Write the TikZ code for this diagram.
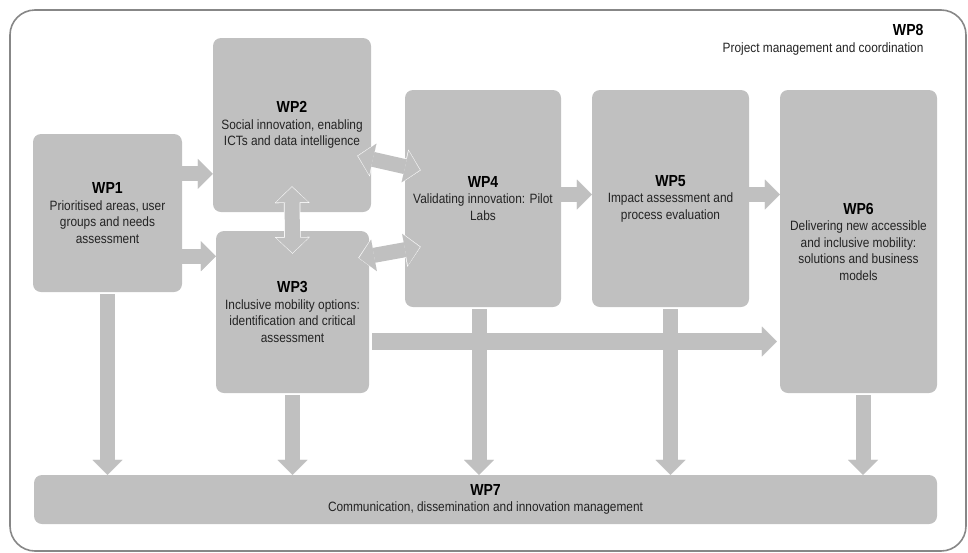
\documentclass[tikz,border=0pt]{standalone}
\usepackage{fontspec}
\setmainfont{Liberation Sans}[FakeStretch=0.88]
\usetikzlibrary{arrows.meta}

\definecolor{boxgray}{RGB}{192,192,192}
\definecolor{framegray}{RGB}{135,135,135}
\definecolor{textgray}{RGB}{35,35,35}

\newcommand{\wptitle}[1]{{\fontsize{16}{20}\selectfont\bfseries\color{black}#1}}

\begin{document}
\begin{tikzpicture}[x=1pt, y=-1pt,
    wpbox/.style={fill=boxgray, rounded corners=8pt, inner sep=0pt, align=center,
        text=textgray, font=\fontsize{13.5}{16.5}\selectfont},
    blockarrow/.style={draw=boxgray, line width=15pt,
        -{Triangle[width=30pt,length=15pt,line width=0.01pt]}},
    twoway/.style={draw=boxgray, line width=15pt,
        {Triangle[width=32pt,length=15pt,line width=0.01pt]}-{Triangle[width=32pt,length=15pt,line width=0.01pt]}},
    halo/.style={draw=white, line width=16.5pt,
        {Triangle[width=34.5pt,length=16.5pt,line width=0.01pt]}-{Triangle[width=34.5pt,length=16.5pt,line width=0.01pt]}}]

    \useasboundingbox (0,0) rectangle (968,552);

    % outer frame of WP8
    \draw [framegray, line width=1.6pt, rounded corners=25pt] (10,10) rectangle (966,551);
    \node [anchor=north east, align=right, text=textgray, font=\fontsize{13.5}{17}\selectfont]
        (wp8) at (927,21) {\wptitle{WP8}\\Project management and coordination};

    \node [wpbox, minimum width=149pt, minimum height=158pt] (wp1) at (107.5,213)
        {\wptitle{WP1}\\Prioritised areas, user\\groups and needs\\assessment};
    \node [wpbox, minimum width=158pt, minimum height=174pt] (wp2) at (292,125)
        {\wptitle{WP2}\\Social innovation, enabling\\ICTs and data intelligence};
    \node [wpbox, minimum width=153pt, minimum height=162pt] (wp3) at (292.5,312)
        {\wptitle{WP3}\\Inclusive mobility options:\\identification and critical\\assessment};
    \node [wpbox, minimum width=156pt, minimum height=217pt] (wp4) at (483,198.5)
        {\wptitle{WP4}\\Validating innovation: Pilot\\Labs};
    \node [wpbox, minimum width=157pt, minimum height=217pt] (wp5) at (670.5,198.5)
        {\wptitle{WP5}\\Impact assessment and\\process evaluation};
    \node [wpbox, minimum width=157pt, minimum height=303pt] (wp6) at (858.5,241.5)
        {\wptitle{WP6}\\Delivering new accessible\\and inclusive mobility:\\solutions and business\\models};
    \node [wpbox, minimum width=903pt, minimum height=49pt] (wp7) at (485.5,499.5)
        {\wptitle{WP7}\\Communication, dissemination and innovation management};

    \draw [blockarrow] ([yshift=-40pt]wp1.north east) -- ([yshift=-40pt]wp1.north east -| wp2.west);
    \draw [blockarrow] ([yshift=36pt]wp1.south east) -- ([yshift=36pt]wp1.south east -| wp3.west);
    \draw [blockarrow] ([yshift=4pt]wp4.east) -- ([yshift=4pt]wp4.east -| wp5.west);
    \draw [blockarrow] ([yshift=4pt]wp5.east) -- ([yshift=4pt]wp5.east -| wp6.west);

    \draw [blockarrow, line width=17pt, shorten <=3pt, shorten >=3pt]
        ([yshift=-29.5pt]wp3.east) -- ([yshift=-29.5pt]wp3.east -| wp6.west);

    \draw [blockarrow, shorten <=2pt] (wp1.south) -- (wp1.south |- wp7.north);
    \draw [blockarrow, shorten <=2pt] (wp3.south) -- (wp3.south |- wp7.north);
    \draw [blockarrow, shorten <=2pt] ([xshift=-4pt]wp4.south) -- ([xshift=-4pt]wp4.south |- wp7.north);
    \draw [blockarrow, shorten <=2pt] (wp5.south) -- (wp5.south |- wp7.north);
    \draw [blockarrow, shorten <=2pt] ([xshift=4.5pt]wp6.south) -- ([xshift=4.5pt]wp6.south |- wp7.north);

    % two-way links
    \draw [halo] ([yshift=25.8pt]wp2.south) -- ([yshift=-22.8pt]wp3.north);
    \draw [twoway] ([yshift=25pt]wp2.south) -- ([yshift=-22pt]wp3.north);
    \draw [halo] ([xshift=-13.8pt,yshift=-30.8pt]wp2.east) -- ([xshift=15.8pt,yshift=28.3pt]wp4.west);
    \draw [twoway] ([xshift=-13pt,yshift=-31pt]wp2.east) -- ([xshift=15pt,yshift=28.5pt]wp4.west);
    \draw [halo] ([xshift=-10.8pt,yshift=54.2pt]wp3.east) -- ([xshift=15.8pt,yshift=-48.3pt]wp4.west);
    \draw [twoway] ([xshift=-10pt,yshift=54pt]wp3.east) -- ([xshift=15pt,yshift=-48.5pt]wp4.west);

\end{tikzpicture}
\end{document}
